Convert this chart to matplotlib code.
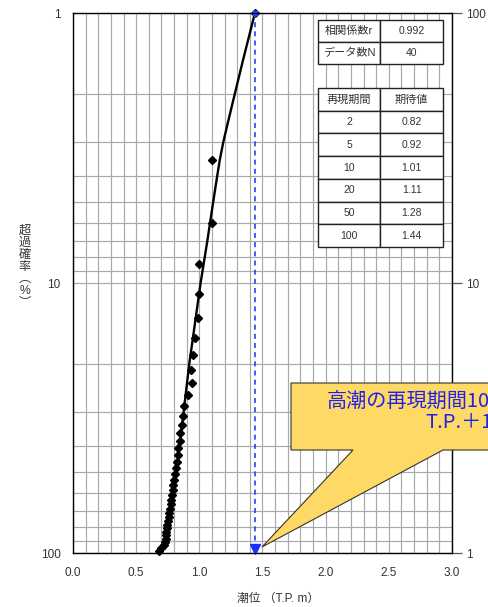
import numpy as np
import matplotlib
matplotlib.use("Agg")
import matplotlib.pyplot as plt
from matplotlib.ticker import FixedLocator, NullFormatter, NullLocator
from matplotlib.patches import Polygon

plt.rcParams['font.family'] = ['Liberation Sans', 'Noto Sans CJK JP', 'DejaVu Sans']

# ---------------- data ----------------
# observed annual maxima (tide level, T.P. m) and exceedance probability (%)
obs_prob = [1.0, 3.5, 6.0, 8.5, 11.0, 13.5, 16.0, 18.5, 21.0, 23.5,
            26.0, 28.5, 31.0, 33.5, 36.0, 38.5, 41.0, 43.5, 46.0, 48.5,
            51.0, 53.5, 56.0, 58.5, 61.0, 63.5, 66.0, 68.5, 71.0, 73.5,
            76.0, 78.5, 81.0, 83.5, 86.0, 88.5, 91.0, 93.5, 96.0, 98.5]
obs_level = [1.44, 1.10, 1.10, 1.00, 1.00, 0.99, 0.965, 0.95, 0.935, 0.94,
             0.91, 0.88, 0.87, 0.86, 0.85, 0.845, 0.835, 0.83, 0.82, 0.815,
             0.81, 0.80, 0.795, 0.79, 0.785, 0.778, 0.772, 0.768, 0.762, 0.757,
             0.752, 0.748, 0.744, 0.74, 0.737, 0.733, 0.728, 0.72, 0.70, 0.68]

# fitted distribution curve
fit_prob = [1, 1.5, 2, 2.5, 3, 3.5, 4, 5, 7, 10, 20, 50, 80, 95, 99]
fit_level = [1.44, 1.345, 1.28, 1.23, 1.19, 1.162, 1.142, 1.11, 1.063, 1.01,
             0.92, 0.82, 0.76, 0.72, 0.70]

# tables
corr_labels = ['相関係数r', 'データ数N']
corr_values = ['0.992', '40']
rp_header = ['再現期間', '期待値']
return_periods = [2, 5, 10, 20, 50, 100]
expected_values = [0.82, 0.92, 1.01, 1.11, 1.28, 1.44]

design_level = 1.44
arrow_top_prob = 1
arrow_bottom_prob = 96.5

x_ticks = [0.0, 0.5, 1.0, 1.5, 2.0, 2.5, 3.0]
y_ticks = [1, 10, 100]
y_left_labels = ['1', '10', '100']
y_right_labels = ['100', '10', '1']

callout_line1 = '高潮の再現期間100年'
callout_line2 = 'T.P.＋1.44m'

# ---------------- figure ----------------
W, H = 489, 607
fig = plt.figure(figsize=(W / 100, H / 100), dpi=100)

def px(x, y):
    return (x / W, 1 - y / H)

ax = fig.add_axes([73 / W, 1 - 553 / H, 379 / W, 540 / H])
ax.set_xlim(0, 3.0)
ax.set_yscale('log')
ax.set_ylim(100, 1)

ax.set_xticks(x_ticks)
ax.set_xticklabels([f'{v:.1f}' for v in x_ticks])
ax.xaxis.set_minor_locator(FixedLocator(np.arange(0, 3.001, 0.1)))
ax.yaxis.set_major_locator(FixedLocator(y_ticks))
ax.set_yticklabels(y_left_labels)
minor_y = [m * d for d in (1, 10) for m in range(2, 10)]
ax.yaxis.set_minor_locator(FixedLocator(minor_y))
ax.yaxis.set_minor_formatter(NullFormatter())

ax.grid(which='both', color='#a8a8a8', lw=0.85)
ax.set_axisbelow(True)
ax.tick_params(which='both', length=0)
ax.tick_params(axis='x', pad=10, labelsize=8.5, labelcolor='#333333')
ax.tick_params(axis='y', pad=9, labelsize=8.5, labelcolor='#333333')
for s in ax.spines.values():
    s.set_color('#333333')
    s.set_linewidth(1.0)

ax2 = ax.twinx()
ax2.set_yscale('log')
ax2.set_ylim(100, 1)
ax2.yaxis.set_major_locator(FixedLocator(y_ticks))
ax2.set_yticklabels(y_right_labels)
ax2.yaxis.set_minor_locator(NullLocator())
ax2.tick_params(axis='y', length=7, width=0.9, color='#555555', pad=3,
                labelsize=8.5, labelcolor='#333333')

# fitted curve and observations
ax.plot(fit_level, fit_prob, color='black', lw=1.7, zorder=3)
ax.plot(obs_level, obs_prob, 'D', color='black', ms=3.8, zorder=4, clip_on=False)

# design level arrow
ax.plot([design_level, design_level], [arrow_top_prob, arrow_bottom_prob],
        color='#2a3cff', lw=1.2, ls=(0, (3, 2.5)), zorder=5)
ax.plot(design_level, arrow_top_prob, 'o', color='#2a3cff', ms=3.5, zorder=6, clip_on=False)
ax.plot(design_level, arrow_bottom_prob, 'v', color='#1a2cff', ms=6.5, zorder=6, clip_on=False)

# tables
t1 = ax.table(cellText=[[a, b] for a, b in zip(corr_labels, corr_values)],
              cellLoc='center', bbox=[(318 - 73) / 379, (553 - 64) / 540,
                                      125 / 379, 44 / 540], zorder=7)
rows = [rp_header] + [[str(t), f'{v:.2f}'] for t, v in zip(return_periods, expected_values)]
t2 = ax.table(cellText=rows, cellLoc='center',
              bbox=[(318 - 73) / 379, (553 - 247) / 540, 125 / 379, 159 / 540], zorder=7)
for tb in (t1, t2):
    tb.auto_set_font_size(False)
    for (r, c), cell in tb.get_celld().items():
        cell.set_edgecolor('#222222')
        cell.set_linewidth(1.0)
        cell.set_facecolor('white')
        txt = cell.get_text()
        txt.set_color('#333333')
        s = txt.get_text()
        if any(ord(ch) > 0x2E80 for ch in s):
            txt.set_fontsize(8)
        else:
            txt.set_fontsize(7.5)

# axis labels
ax.set_xlabel('潮位 （T.P. m）', fontsize=8.5, color='#333333')
ax.xaxis.set_label_coords((278 - 73) / 379, (553 - 593) / 540)
fig.text(*px(25, 267), '超\n過\n確\n率\n︵\n%\n︶', ha='center', va='center',
         fontsize=8.8, linespacing=1.0, color='#333333')

# callout
poly = Polygon([px(291, 383), px(495, 383), px(495, 450), px(443, 450),
                px(262, 547), px(353, 450), px(291, 450)],
               closed=True, transform=fig.transFigure, facecolor='#FFD966',
               edgecolor='#333333', lw=0.8, zorder=10)
fig.patches.append(poly)
fig.text(*px(327, 402), callout_line1, ha='left', va='center', fontsize=14.5,
         color='#2222e6', family=['Noto Sans CJK JP', 'DejaVu Sans'], zorder=11)
fig.text(*px(425, 423), callout_line2, ha='left', va='center', fontsize=14.5,
         color='#2222e6', family=['Noto Sans CJK JP', 'DejaVu Sans'], zorder=11)

fig.savefig('out.png', dpi=100)
